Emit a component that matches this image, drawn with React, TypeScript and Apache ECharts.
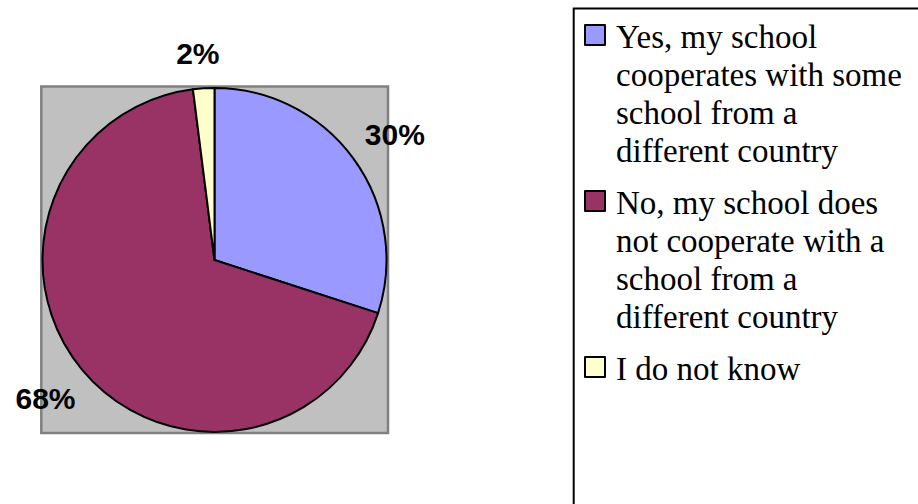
import React, { useEffect, useRef } from "react";
import * as echarts from "echarts";

// ---- data ----
const categories = [
  "Yes, my school cooperates with some school from a different country",
  "No, my school does not cooperate with a school from a different country",
  "I do not know",
];
const legendLines = [
  ["Yes, my school", "cooperates with some", "school from a", "different country"],
  ["No, my school does", "not cooperate with a", "school from a", "different country"],
  ["I do not know"],
];
const values = [30, 68, 2];
const colors = ["#9999FF", "#993366", "#FFFFCC"];

// ---- label placement style (outside-label line lengths per slice) ----
const labelPlacement = [
  { length: 41, length2: -27 },
  { length: 46, length2: -34 },
  { length: 35, length2: -23 },
];

export default function App() {
  const ref = useRef<HTMLDivElement>(null);
  useEffect(() => {
    if (!ref.current) return;
    const chart = echarts.init(ref.current, undefined, { renderer: "svg" });
    const maxLines = Math.max(...legendLines.map((l) => l.length));
    chart.setOption({
      animation: false,
      backgroundColor: "#ffffff",
      graphic: [
        {
          type: "rect",
          z: -10,
          shape: { x: 41.3, y: 86.5, width: 346.7, height: 346.5 },
          style: { fill: "#C0C0C0", stroke: "#808080", lineWidth: 2.5 },
        },
        {
          type: "rect",
          z: -10,
          shape: { x: 573.7, y: 8.5, width: 420, height: 620 },
          style: { fill: "#ffffff", stroke: "#000000", lineWidth: 2 },
        },
      ],
      legend: {
        orient: "vertical",
        left: 583,
        top: 16.6,
        padding: 0,
        itemGap: 12,
        itemWidth: 27,
        itemHeight: 152,
        icon: "path://M1 7.4h20v20h-20zM0 0M27 152",
        selectedMode: false,
        itemStyle: { borderColor: "#000000", borderWidth: 2 },
        textStyle: {
          fontFamily: "'Times New Roman', 'Liberation Serif', serif",
          fontSize: 33,
          lineHeight: 38,
          color: "#000000",
        },
        data: categories,
        formatter: (name: string) => {
          const idx = categories.indexOf(name);
          const lines = legendLines[idx].slice();
          while (lines.length < maxLines) lines.push("");
          return lines.join("\n");
        },
      },
      series: [
        {
          type: "pie",
          center: [214.5, 260],
          radius: 172,
          startAngle: 90,
          clockwise: true,
          avoidLabelOverlap: false,
          percentPrecision: 0,
          silent: true,
          itemStyle: { borderColor: "#000000", borderWidth: 2 },
          label: {
            show: true,
            position: "outside",
            formatter: "{d}%",
            fontFamily: "Arial, 'Liberation Sans', sans-serif",
            fontWeight: "bold",
            fontSize: 30,
            color: "#000000",
            overflow: "none",
          },
          labelLine: { show: false },
          emphasis: { disabled: true },
          data: categories.map((name, i) => ({
            name,
            value: values[i],
            itemStyle: { color: colors[i] },
            labelLine: { show: false, ...labelPlacement[i] },
          })),
        },
      ],
    });
    return () => chart.dispose();
  }, []);
  return (
    <div
      ref={ref}
      style={{ position: "absolute", left: 0, top: 0, width: 918, height: 504 }}
    />
  );
}
